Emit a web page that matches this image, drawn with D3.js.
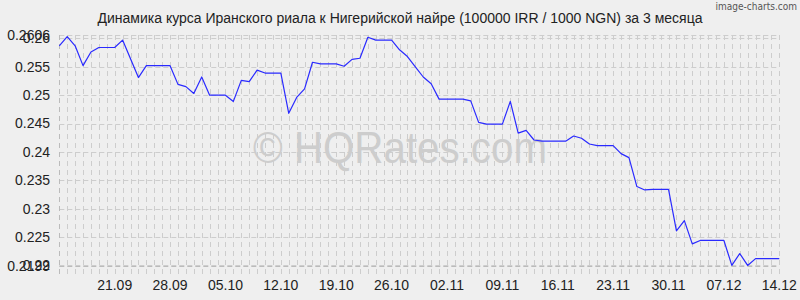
<!DOCTYPE html>
<html>
<head>
<meta charset="utf-8">
<script src="https://cdn.jsdelivr.net/npm/d3@7"></script>
<style>
  body { margin: 0; background: #efefef; }
  svg { display: block; font-family: "Liberation Sans", Arial, sans-serif; }
</style>
</head>
<body>
<svg id="chart" width="800" height="300"></svg>
<script>
// daily rate, 100000 IRR in 1000 NGN, starting at startDate
const startDate = "2023-09-14";
const rates = [
  0.2587, 0.2603, 0.2587, 0.2552, 0.2576, 0.2584, 0.2584, 0.2584, 0.2597, 0.2564,
  0.2531, 0.2552, 0.2552, 0.2552, 0.2552, 0.2519, 0.2515, 0.2503, 0.2532, 0.2500,
  0.2500, 0.2500, 0.2489, 0.2526, 0.2524, 0.2544, 0.2539, 0.2539, 0.2539, 0.2468,
  0.2496, 0.2511, 0.2558, 0.2555, 0.2555, 0.2555, 0.2551, 0.2563, 0.2565, 0.2602,
  0.2597, 0.2597, 0.2597, 0.2580, 0.2568, 0.2550, 0.2532, 0.2520, 0.2493, 0.2493,
  0.2493, 0.2493, 0.2490, 0.2452, 0.2449, 0.2449, 0.2449, 0.2489, 0.2433, 0.2438,
  0.2421, 0.2419, 0.2419, 0.2419, 0.2419, 0.2428, 0.2424, 0.2414, 0.2411, 0.2411,
  0.2411, 0.2397, 0.2390, 0.2339, 0.2333, 0.2334, 0.2334, 0.2334, 0.2261, 0.2279,
  0.2238, 0.2244, 0.2244, 0.2244, 0.2244, 0.2200, 0.2221, 0.2200, 0.2212, 0.2212,
  0.2212, 0.2212
];
const xLabels = ["21.09", "28.09", "05.10", "12.10", "19.10", "26.10", "02.11",
  "09.11", "16.11", "23.11", "30.11", "07.12", "14.12"];
const yTicks = [0.2199, 0.22, 0.225, 0.23, 0.235, 0.24, 0.245, 0.25, 0.255, 0.26, 0.2606];
const yGrid = [0.22, 0.225, 0.23, 0.235, 0.24, 0.245, 0.25, 0.255, 0.26, 0.2606];

const parseDay = d3.timeParse("%Y-%m-%d");
const parseLabel = d3.timeParse("%d.%m.%Y");
const first = parseDay(startDate);
const data = rates.map((v, i) => ({ date: d3.timeDay.offset(first, i), value: v }));

const svg = d3.select("#chart");
const mLeft = 59.3, mRight = 779.3, mTop = 35, mBottom = 266;

const x = d3.scaleTime()
  .domain(d3.extent(data, d => d.date))
  .range([mLeft, mRight]);
const y = d3.scaleLinear()
  .domain([0.2199, 0.2606])
  .range([mBottom, mTop]);

// grid
const grid = svg.append("g").attr("stroke", "#cdcdcd").attr("stroke-width", 1).attr("fill", "none");
grid.selectAll("line.v")
  .data(data.slice(1))
  .join("line")
  .attr("x1", d => Math.round(x(d.date)) + 0.5)
  .attr("x2", d => Math.round(x(d.date)) + 0.5)
  .attr("y1", mTop)
  .attr("y2", mBottom + 11)
  .attr("stroke-dasharray", "5,4");
grid.selectAll("line.h")
  .data(yGrid)
  .join("line")
  .attr("x1", mLeft)
  .attr("x2", mRight)
  .attr("y1", d => Math.round(y(d)) + 0.5)
  .attr("y2", d => Math.round(y(d)) + 0.5)
  .attr("stroke-dasharray", "5,3");

// axis lines
svg.append("line")
  .attr("x1", Math.round(mLeft) + 0.5).attr("x2", Math.round(mLeft) + 0.5)
  .attr("y1", mTop).attr("y2", mBottom + 11)
  .attr("stroke", "#bbb").attr("stroke-dasharray", "5,4");
svg.append("line")
  .attr("x1", mLeft).attr("x2", mRight)
  .attr("y1", mBottom + 0.5).attr("y2", mBottom + 0.5)
  .attr("stroke", "#bbb").attr("stroke-dasharray", "5,3");

// watermark
svg.append("text")
  .attr("x", 400).attr("y", 163)
  .attr("text-anchor", "middle")
  .attr("font-size", 44)
  .attr("textLength", 294)
  .attr("lengthAdjust", "spacingAndGlyphs")
  .attr("fill", "#cdcdcd")
  .text("© HQRates.com");

// line
const line = d3.line()
  .x(d => x(d.date))
  .y(d => y(d.value));
svg.append("path")
  .datum(data)
  .attr("fill", "none")
  .attr("stroke", "#2a2aff")
  .attr("stroke-width", 1.2)
  .attr("stroke-linejoin", "round")
  .attr("d", line);

// y labels
svg.append("g")
  .selectAll("text")
  .data(yTicks)
  .join("text")
  .attr("x", 50)
  .attr("y", d => y(d))
  .attr("dy", "0.35em")
  .attr("text-anchor", "end")
  .attr("font-size", 14)
  .attr("fill", "#222")
  .text(d => d);

// x labels
svg.append("g")
  .selectAll("text")
  .data(xLabels)
  .join("text")
  .attr("x", d => x(parseLabel(d + ".2023")))
  .attr("y", 290)
  .attr("text-anchor", "middle")
  .attr("font-size", 14)
  .attr("fill", "#222")
  .text(d => d);

// title
svg.append("text")
  .attr("x", 400).attr("y", 23)
  .attr("text-anchor", "middle")
  .attr("font-size", 14)
  .attr("fill", "#222")
  .text("Динамика курса Иранского риала к Нигерийской найре (100000 IRR / 1000 NGN) за 3 месяца");

svg.append("text")
  .attr("x", 797).attr("y", 10)
  .attr("text-anchor", "end")
  .attr("font-family", "DejaVu Sans Condensed, DejaVu Sans, sans-serif")
  .attr("font-size", 10)
  .attr("fill", "#555")
  .text("image-charts.com");
</script>
</body>
</html>
